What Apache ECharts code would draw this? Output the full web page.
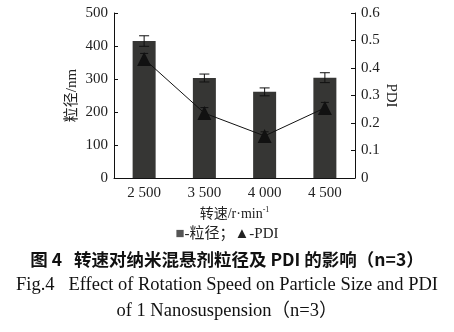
<!DOCTYPE html>
<html><head><meta charset="utf-8">
<script src="https://cdn.jsdelivr.net/npm/echarts@6/dist/echarts.min.js"></script>
<style>html,body{margin:0;padding:0;background:#fff}#c{width:454px;height:332px}</style>
</head><body><div id="c"></div>
<script>
const categories = ['2 500', '3 500', '4 000', '4 500'];
const sizeValues = [415, 303, 261, 304];
const sizeErrors = [16, 12, 12, 15];
const pdiValues = [0.433, 0.236, 0.153, 0.255];
const pdiErrors = [0.02, 0.02, 0.015, 0.02];
const leftTicks = [0, 100, 200, 300, 400, 500];
const rightTicks = [0, 0.1, 0.2, 0.3, 0.4, 0.5, 0.6];

const serif = '"Liberation Serif", "Noto Sans CJK SC", serif';
const chart = echarts.init(document.getElementById('c'));

function errBar(values, errors, yAxisIndex, capW) {
  return {
    type: 'custom', yAxisIndex: yAxisIndex, z: 5, silent: true,
    data: values.map((v, i) => [i, v - errors[i], v + errors[i]]),
    renderItem: function (params, api) {
      const lo = api.coord([api.value(0), api.value(1)]);
      const hi = api.coord([api.value(0), api.value(2)]);
      const st = { stroke: '#111', lineWidth: 1 };
      return { type: 'group', children: [
        { type: 'line', shape: { x1: lo[0], y1: lo[1], x2: hi[0], y2: hi[1] }, style: st },
        { type: 'line', shape: { x1: hi[0] - capW, y1: hi[1], x2: hi[0] + capW, y2: hi[1] }, style: st },
        { type: 'line', shape: { x1: lo[0] - capW, y1: lo[1], x2: lo[0] + capW, y2: lo[1] }, style: st }
      ]};
    }
  };
}

chart.setOption({
  animation: false,
  textStyle: { fontFamily: serif },
  grid: { left: 114, right: 99, top: 13, bottom: 154 },
  title: [
    { text: '图 4   转速对纳米混悬剂粒径及 PDI 的影响（n=3）', left: 'center', top: 246,
      textStyle: { fontFamily: '"Noto Sans CJK SC", sans-serif', fontSize: 17.5, fontWeight: 'bold', color: '#111' } },
    { text: 'Fig.4   Effect of Rotation Speed on Particle Size and PDI', left: 'center', top: 271,
      textStyle: { fontFamily: serif, fontSize: 18.5, fontWeight: 'normal', color: '#111' } },
    { text: 'of 1 Nanosuspension（n=3）', left: 'center', top: 297,
      textStyle: { fontFamily: serif, fontSize: 18.5, fontWeight: 'normal', color: '#111' } },
    { text: '{g|■}-粒径；▲-PDI', left: 'center', top: 222,
      textStyle: { fontFamily: serif, fontSize: 15, fontWeight: 'normal', color: '#222',
        rich: { g: { fontSize: 15, color: '#555', fontFamily: serif } } } }
  ],
  xAxis: {
    type: 'category', data: categories, boundaryGap: true,
    axisLine: { lineStyle: { color: '#111', width: 1 } },
    axisTick: { show: false },
    axisLabel: { color: '#222', fontSize: 15, margin: 8, fontFamily: serif },
    name: '{a|转速/r·min}{s|-1}', nameLocation: 'middle', nameGap: 28, nameMoveOverlap: false,
    nameTextStyle: { rich: {
      a: { fontSize: 14, color: '#222', fontFamily: serif },
      s: { fontSize: 8, color: '#222', verticalAlign: 'top', padding: [0, 0, 8, 0], fontFamily: serif }
    } }
  },
  yAxis: [
    { type: 'value', min: 0, max: 500, interval: 100, position: 'left',
      axisLine: { show: true, lineStyle: { color: '#111' } },
      axisTick: { show: true, inside: true, length: 4, lineStyle: { color: '#111' } },
      splitLine: { show: false },
      axisLabel: { color: '#222', fontSize: 15, margin: 6, fontFamily: serif,
        formatter: v => leftTicks.includes(v) ? String(v) : '' },
      name: '粒径/nm', nameLocation: 'middle', nameGap: 34, nameRotate: 90, nameMoveOverlap: false,
      nameTextStyle: { fontSize: 15, color: '#222', fontFamily: serif } },
    { type: 'value', min: 0, max: 0.6, interval: 0.1, position: 'right',
      axisLine: { show: true, lineStyle: { color: '#111' } },
      axisTick: { show: true, inside: true, length: 4, lineStyle: { color: '#111' } },
      splitLine: { show: false },
      axisLabel: { color: '#222', fontSize: 15, margin: 6, fontFamily: serif,
        formatter: v => { const r = rightTicks.find(t => Math.abs(t - v) < 1e-9); return r === undefined ? '' : (r === 0 ? '0' : r.toFixed(1)); } },
      name: 'PDI', nameLocation: 'middle', nameGap: 28, nameRotate: -90, nameMoveOverlap: false,
      nameTextStyle: { fontSize: 15, color: '#222', fontFamily: serif } }
  ],
  series: [
    { type: 'bar', data: sizeValues, yAxisIndex: 0, barWidth: 23,
      itemStyle: { color: '#363634' } },
    errBar(sizeValues, sizeErrors, 0, 5),
    { type: 'line', data: pdiValues, yAxisIndex: 1, z: 6,
      symbol: 'triangle', symbolSize: 14,
      lineStyle: { color: '#111', width: 1 }, itemStyle: { color: '#111' } },
    errBar(pdiValues, pdiErrors, 1, 4)
  ]
});
</script></body></html>
